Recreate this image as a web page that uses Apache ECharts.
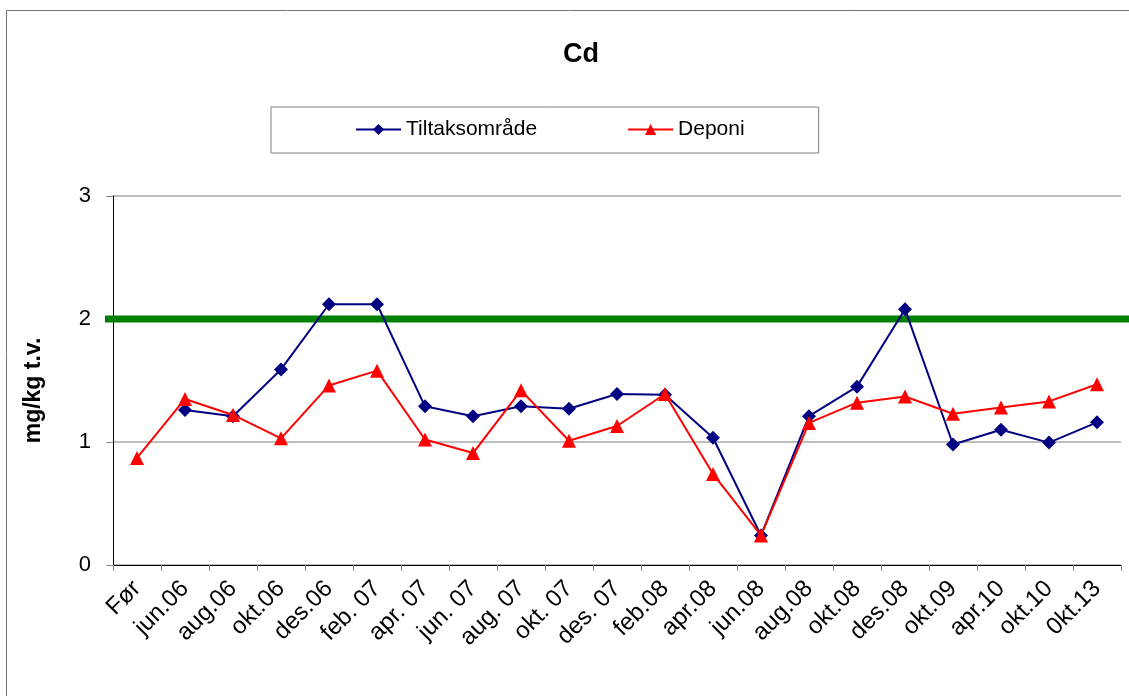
<!doctype html>
<html>
<head>
	<meta charset="utf-8">
	<title>Cd</title>
	<script src="https://cdn.jsdelivr.net/npm/echarts@6/dist/echarts.min.js"></script>
	<style>
		html, body { margin: 0; padding: 0; background: #fff; }
		#chart { width: 1129px; height: 696px; }
	</style>
</head>
<body>
	<div id="chart"></div>
	<script>
		var categories = ["Før", "jun.06", "aug.06", "okt.06", "des.06", "feb. 07", "apr. 07", "jun. 07", "aug. 07", "okt. 07", "des. 07", "feb.08", "apr.08", "jun.08", "aug.08", "okt.08", "des.08", "okt.09", "apr.10", "okt.10", "0kt.13"];
		var tiltaksomrade = [null, 1.26, 1.21, 1.59, 2.12, 2.12, 1.29, 1.21, 1.29, 1.27, 1.39, 1.385, 1.035, 0.24, 1.21, 1.45, 2.08, 0.98, 1.10, 0.995, 1.16];
		var deponi = [0.87, 1.35, 1.22, 1.03, 1.46, 1.58, 1.02, 0.91, 1.42, 1.01, 1.13, 1.39, 0.74, 0.24, 1.155, 1.32, 1.37, 1.23, 1.28, 1.33, 1.47];
		var limitValue = 2;

		var font = "'Liberation Sans', Arial, sans-serif";
		var chart = echarts.init(document.getElementById("chart"));

		chart.setOption({
			animation: false,
			textStyle: { fontFamily: font },
			title: {
				text: "Cd",
				left: 558,
				top: 36,
				textStyle: { fontSize: 27, fontWeight: "bold", color: "#000", fontFamily: font }
			},
			graphic: [{
				type: "rect",
				shape: { x: 6.5, y: 10.5, width: 1140, height: 700 },
				style: { fill: "none", stroke: "#777", lineWidth: 1 },
				silent: true,
				z: -1
			}],
			legend: {
				data: ["Tiltaksområde", "Deponi"],
				left: 271,
				top: 107,
				padding: [12, 74, 13, 84],
				itemGap: 90,
				itemWidth: 45,
				itemHeight: 14,
				borderColor: "#808080",
				borderWidth: 1,
				textStyle: { fontSize: 21, color: "#000", fontFamily: font }
			},
			grid: [{
				left: 113,
				right: 8,
				top: 196,
				bottom: 131
			}, {
				left: 105,
				right: 0,
				top: 196,
				bottom: 131
			}],
			xAxis: [{
				type: "category",
				gridIndex: 0,
				data: categories,
				boundaryGap: true,
				axisLine: { show: true, lineStyle: { color: "#000", width: 1 } },
				axisTick: { show: true, length: 6, lineStyle: { color: "#888" } },
				axisLabel: {
					interval: 0,
					rotate: 45,
					fontSize: 24,
					color: "#000",
					margin: 20,
					fontFamily: font
				}
			}, {
				type: "value",
				gridIndex: 1,
				min: 0,
				max: 1,
				show: false
			}],
			yAxis: [{
				type: "value",
				gridIndex: 0,
				min: 0,
				max: 3,
				interval: 1,
				name: "mg/kg t.v.",
				nameLocation: "middle",
				nameRotate: 90,
				nameGap: 68,
				nameTextStyle: { fontSize: 23, fontWeight: "bold", color: "#000", fontFamily: font, padding: [0, 20, 0, 0] },
				axisLine: { show: true, lineStyle: { color: "#000", width: 1 } },
				axisTick: { show: true, length: 7, lineStyle: { color: "#888" } },
				axisLabel: { fontSize: 22, color: "#000", margin: 22, fontFamily: font },
				splitLine: { show: true, lineStyle: { color: "#a8a8a8", width: 1.5 } }
			}, {
				type: "value",
				gridIndex: 1,
				min: 0,
				max: 3,
				show: false
			}],
			series: [{
				name: "limit",
				type: "line",
				xAxisIndex: 1,
				yAxisIndex: 1,
				data: [[0, limitValue], [1, limitValue]],
				symbol: "none",
				lineStyle: { color: "#008000", width: 7 },
				silent: true,
				z: 1
			}, {
				name: "Tiltaksområde",
				type: "line",
				data: tiltaksomrade,
				symbol: "diamond",
				symbolSize: 14,
				itemStyle: { color: "#000080" },
				lineStyle: { color: "#000080", width: 2 },
				z: 3
			}, {
				name: "Deponi",
				type: "line",
				data: deponi,
				symbol: "triangle",
				symbolSize: 14,
				itemStyle: { color: "#ff0000" },
				lineStyle: { color: "#ff0000", width: 2 },
				z: 4
			}]
		});
	</script>
</body>
</html>
